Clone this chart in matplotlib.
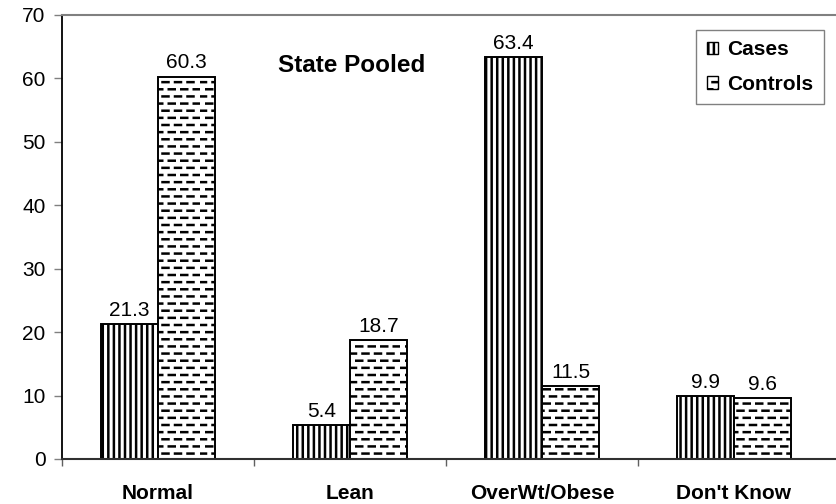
import numpy as np
import matplotlib
matplotlib.use("Agg")
import matplotlib.pyplot as plt
from matplotlib import hatch as mhatch
from matplotlib.path import Path
from matplotlib.patches import Patch

categories = ["Normal", "Lean", "OverWt/Obese", "Don't Know"]
cases = [21.3, 5.4, 63.4, 9.9]
controls = [60.3, 18.7, 11.5, 9.6]
series_names = ["Cases", "Controls"]
yticks = [0, 10, 20, 30, 40, 50, 60, 70]


class DashHatch(mhatch.HatchPatternBase):
    """Staggered short horizontal dashes, selected with '-'."""
    per_row = 8

    def __init__(self, hatch, density):
        self.rows = int(round(hatch.count('-') * density * 7 / 6))
        self.num_vertices = self.rows * self.per_row * 2

    def set_vertices_and_codes(self, vertices, codes):
        idx = 0
        step = 1.0 / self.per_row
        for r in range(self.rows):
            y = (r + 0.5) / self.rows
            off = 0.0 if r % 2 == 0 else step * 0.5
            for k in range(self.per_row):
                x0 = k * step + off
                vertices[idx] = [x0, y]
                vertices[idx + 1] = [x0 + step * 0.48, y]
                codes[idx] = Path.MOVETO
                codes[idx + 1] = Path.LINETO
                idx += 2


mhatch._hatch_types[:] = [mhatch.VerticalHatch, DashHatch]

plt.rcParams['font.family'] = ['Liberation Sans', 'DejaVu Sans']
plt.rcParams['hatch.linewidth'] = 1.8
plt.rcParams['hatch.color'] = 'black'

fig = plt.figure(figsize=(8.36, 5.04), dpi=100)
ax = fig.add_axes([62 / 836, 1 - 459 / 504, 1 - 62 / 836, (459 - 15) / 504])

x = np.arange(len(categories))
w = 0.297
b1 = ax.bar(x - w / 2, cases, w, facecolor='white', edgecolor='black',
            linewidth=1.4, hatch='|||', label=series_names[0])
b2 = ax.bar(x + w / 2, controls, w, facecolor='white', edgecolor='black',
            linewidth=1.4, hatch='--', label=series_names[1])

for bars, vals in ((b1, cases), (b2, controls)):
    for rect, v in zip(bars, vals):
        ax.annotate(f"{v:.1f}", (rect.get_x() + rect.get_width() / 2, v),
                    xytext=(0, 3), textcoords='offset points',
                    ha='center', va='bottom', fontsize=15)

ax.set_xlim(-0.5, 3.5 + 6 / 192)
ax.set_ylim(0, 70)
ax.set_yticks(yticks)
ax.tick_params(axis='y', direction='out', length=5.8, width=1, color='#808080',
               labelsize=15, pad=6)
ax.set_xticks(x)
ax.set_xticklabels(categories, fontweight='bold', fontsize=15)
ax.tick_params(axis='x', which='major', length=0, pad=18)
ax.set_xticks(np.arange(-0.5, 3.0, 1.0), minor=True)
ax.tick_params(axis='x', which='minor', direction='out', length=5, width=1,
               color='#606060')

ax.spines['right'].set_visible(False)
ax.spines['top'].set_color('#808080')
ax.spines['top'].set_linewidth(1.5)
ax.spines['left'].set_color('black')
ax.spines['left'].set_linewidth(1.3)
ax.spines['bottom'].set_color('#303030')
ax.spines['bottom'].set_linewidth(1.5)

ax.text(1.01, 62.1, "State Pooled", fontsize=17.5, fontweight='bold',
        ha='center', va='center')

handles = [Patch(facecolor='white', edgecolor='black', hatch='|||', label=series_names[0]),
           Patch(facecolor='white', edgecolor='black', hatch='--', label=series_names[1])]
leg = ax.legend(handles=handles, loc='upper right',
                bbox_to_anchor=((824 - 62) / 774, 1 - 15 / 444),
                bbox_transform=ax.transAxes, fancybox=False, frameon=True,
                prop={'weight': 'bold', 'size': 15}, handlelength=0.55, handleheight=0.55,
                handletextpad=0.45, borderpad=0.5, labelspacing=0.75, borderaxespad=0)
leg.get_frame().set_edgecolor('#606060')
leg.get_frame().set_linewidth(1.0)

fig.savefig("out.png", dpi=100)
